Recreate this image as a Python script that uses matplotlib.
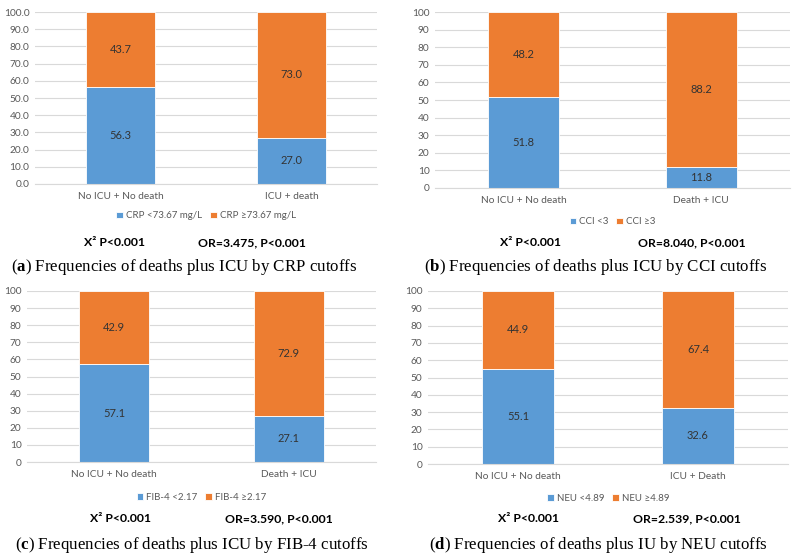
import matplotlib
matplotlib.use('Agg')
import matplotlib.pyplot as plt

plt.rcParams['font.family'] = ['Lato', 'DejaVu Sans']
plt.rcParams['mathtext.fontset'] = 'custom'
plt.rcParams['mathtext.rm'] = 'Liberation Serif'
plt.rcParams['mathtext.bf'] = 'Liberation Serif:bold'

BLUE = '#5B9BD5'
ORANGE = '#ED7D31'

# data for the four panels
cats_a = ['No ICU + No death', 'ICU + death']
low_a = [56.3, 27.0]
high_a = [43.7, 73.0]
legend_a = ['CRP <73.67 mg/L', 'CRP \u226573.67 mg/L']
or_a = 'OR=3.475, P<0.001'

cats_b = ['No ICU + No death', 'Death + ICU']
low_b = [51.8, 11.8]
high_b = [48.2, 88.2]
legend_b = ['CCI <3', 'CCI \u22653']
or_b = 'OR=8.040, P<0.001'

cats_c = ['No ICU + No death', 'Death + ICU']
low_c = [57.1, 27.1]
high_c = [42.9, 72.9]
legend_c = ['FIB-4 <2.17', 'FIB-4 \u22652.17']
or_c = 'OR=3.590, P<0.001'

cats_d = ['No ICU + No death', 'ICU + Death']
low_d = [55.1, 32.6]
high_d = [44.9, 67.4]
legend_d = ['NEU <4.89', 'NEU \u22654.89']
or_d = 'OR=2.539, P<0.001'

captions = [
    ('a', 'Frequencies of deaths plus ICU by CRP cutoffs'),
    ('b', 'Frequencies of deaths plus ICU by CCI cutoffs'),
    ('c', 'Frequencies of deaths plus ICU by FIB-4 cutoffs'),
    ('d', 'Frequencies of deaths plus IU by NEU cutoffs'),
]

W, H = 799, 560
fig = plt.figure(figsize=(W / 100, H / 100), dpi=100)


def px_axes(x0, y0, x1, y1):
    # pixel box (top-left origin) -> figure fraction axes
    return fig.add_axes([x0 / W, 1 - y1 / H, (x1 - x0) / W, (y1 - y0) / H])


def panel(box, cats, low, high, labels, ortext, step, fmt, leg_y, stat_y,
          stat_x, cap_x, cap_y, caption):
    ax = px_axes(*box)
    x = range(len(cats))
    ax.bar(x, low, width=0.40, color=BLUE, edgecolor='white', linewidth=0.6,
           label=labels[0], zorder=3)
    ax.bar(x, high, width=0.40, bottom=low, color=ORANGE, edgecolor='white',
           linewidth=0.6, label=labels[1], zorder=3)
    for i in x:
        ax.text(i, low[i] / 2, '%.1f' % low[i], ha='center', va='center',
                fontsize=8, color='#333333', zorder=4)
        ax.text(i, low[i] + high[i] / 2, '%.1f' % high[i], ha='center',
                va='center', fontsize=8, color='#333333', zorder=4)
    ax.set_xlim(-0.5, 1.5)
    ax.set_ylim(0, 100)
    ticks = list(range(0, 101, step))
    ax.set_yticks(ticks)
    ax.set_yticklabels([fmt % t for t in ticks])
    ax.set_xticks(list(x))
    ax.set_xticklabels(cats)
    ax.tick_params(length=0, labelsize=7.3, colors='#595959', pad=6)
    ax.tick_params(axis='y', pad=4)
    ax.yaxis.grid(True, color='#D9D9D9', linewidth=0.8, zorder=0)
    for s in ['top', 'right', 'left']:
        ax.spines[s].set_visible(False)
    ax.spines['bottom'].set_color('#D9D9D9')
    ax.spines['bottom'].set_linewidth(0.8)
    ax.spines['bottom'].set_zorder(5)
    ax.legend(loc='center', bbox_to_anchor=(0.5, 1 - (leg_y - box[1]) / (box[3] - box[1])),
              ncol=2, frameon=False, fontsize=7, handlelength=0.7,
              handleheight=0.7, handletextpad=0.3, columnspacing=0.8,
              labelcolor='#595959')
    fig.text(stat_x[0] / W, 1 - stat_y / H, 'X\u00b2 P<0.001', ha='center',
             va='center', fontsize=8.8, fontweight='bold', color='black')
    fig.text(stat_x[1] / W, 1 - stat_y / H, ortext, ha='center',
             va='center', fontsize=8.8, fontweight='bold', color='black')
    fig.text(cap_x / W, 1 - cap_y / H,
             r'($\mathbf{%s}$) ' % caption[0] + caption[1], ha='center',
             va='center', fontsize=12.2, family='Liberation Serif', color='black')
    return ax


panel((35, 12, 377, 184), cats_a, low_a, high_a, legend_a, or_a, 10, '%.1f',
      216, 243, (114, 252), 184, 267, captions[0])
panel((435, 12, 790, 188), cats_b, low_b, high_b, legend_b, or_b, 10, '%d',
      222, 243, (530, 692), 596, 267, captions[1])
panel((27, 291, 376, 462), cats_c, low_c, high_c, legend_c, or_c, 10, '%d',
      497, 519, (121, 279), 192, 545, captions[2])
panel((428, 291, 788, 464), cats_d, low_d, high_d, legend_d, or_d, 10, '%d',
      498, 519, (528, 687), 598, 545, captions[3])

fig.savefig('out.png', dpi=100)
